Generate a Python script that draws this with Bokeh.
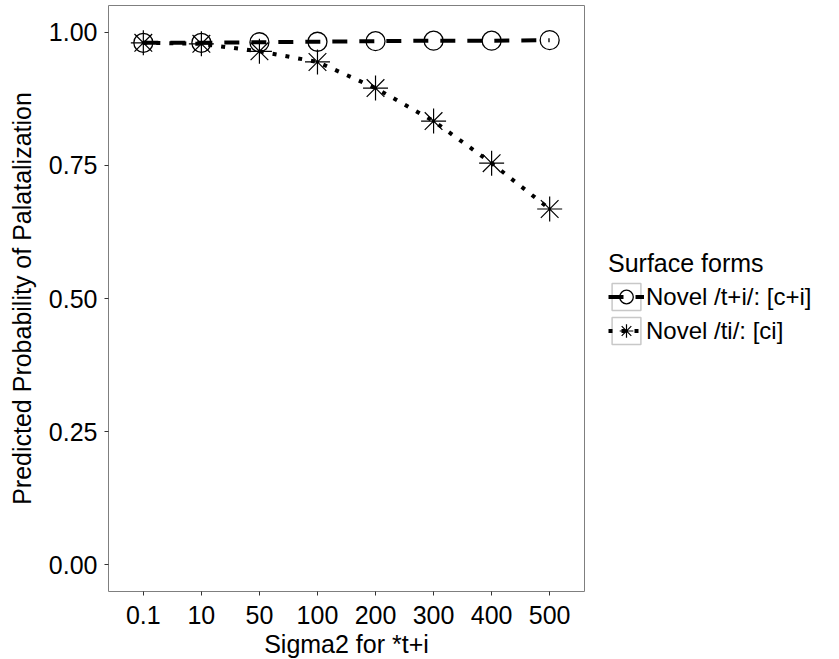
from bokeh.plotting import figure
from bokeh.models import Range1d, FactorRange, FixedTicker, Legend, LegendItem, ColumnDataSource
from bokeh.models import NumeralTickFormatter
from bokeh.embed import file_html
from bokeh.resources import INLINE

sigma2 = ["0.1", "10", "50", "100", "200", "300", "400", "500"]
novel_t_plus_i = [0.980, 0.980, 0.981, 0.982, 0.983, 0.984, 0.984, 0.985]
novel_ti = [0.980, 0.978, 0.964, 0.944, 0.895, 0.833, 0.754, 0.668]
y_ticks = [0.0, 0.25, 0.5, 0.75, 1.0]
series_labels = ["Novel /t+i/: [c+i]", "Novel /ti/: [ci]"]

FONT = "Liberation Sans"
FS = "25px"

p = figure(
    x_range=FactorRange(factors=sigma2, range_padding=0.025, range_padding_units="percent"),
    y_range=Range1d(-0.05, 1.05),
    frame_width=476, frame_height=586,
    min_border_left=108, min_border_top=5, min_border_bottom=60, min_border_right=0,
    output_backend="svg", toolbar_location=None,
)
p.background_fill_color = "white"
p.border_fill_color = "white"
p.outline_line_color = "#7f7f7f"
p.outline_line_width = 1
p.xgrid.visible = False
p.ygrid.visible = False

for ax in (p.xaxis[0], p.yaxis[0]):
    ax.axis_line_color = None
    ax.major_tick_line_color = "#333333"
    ax.major_tick_out = 4
    ax.major_tick_in = 0
    ax.minor_tick_line_color = None
    ax.major_label_text_font = FONT
    ax.major_label_text_font_size = FS
    ax.major_label_text_color = "black"
    ax.axis_label_text_font = FONT
    ax.axis_label_text_font_size = FS
    ax.axis_label_text_font_style = "normal"
    ax.axis_label_text_color = "black"

p.yaxis[0].ticker = FixedTicker(ticks=y_ticks)
p.yaxis[0].formatter = NumeralTickFormatter(format="0.00")
p.yaxis[0].axis_label = "Predicted Probability of Palatalization"
p.yaxis[0].major_label_standoff = 7
p.yaxis[0].axis_label_standoff = 10
p.xaxis[0].axis_label = "Sigma2 for *t+i"
p.xaxis[0].major_label_standoff = 10
p.xaxis[0].axis_label_standoff = 3

src = ColumnDataSource(dict(x=sigma2, a=novel_t_plus_i, b=novel_ti))

l1 = p.line("x", "a", source=src, line_color="black", line_width=4, line_dash="15 12")
m1 = p.scatter("x", "a", source=src, marker="circle", size=19, fill_color=None,
               line_color="black", line_width=1.3)
l2 = p.line("x", "b", source=src, line_color="black", line_width=4, line_dash="4 9")
m2 = p.scatter("x", "b", source=src, marker="asterisk", size=25,
               line_color="black", line_width=1.2)

# legend key boxes (glyph placed outside the visible y range)
box_src = ColumnDataSource(dict(x=[sigma2[0]], y=[5.0]))
bx = p.rect("x", "y", width=0.5, height=0.1, source=box_src,
            fill_color="white", line_color="#c8c8c8", line_width=1.5)

legend = Legend(
    items=[LegendItem(label=series_labels[0], renderers=[bx, l1, m1]),
           LegendItem(label=series_labels[1], renderers=[bx, l2, m2])],
    title="Surface forms",
    location="center_left",
    orientation="vertical",
)
legend.title_text_font = FONT
legend.title_text_font_size = FS
legend.title_text_font_style = "normal"
legend.title_text_color = "black"
legend.title_standoff = 2
legend.label_text_font = FONT
legend.label_text_font_size = "24px"
legend.label_text_color = "black"
legend.label_standoff = 2
legend.glyph_width = 36
legend.glyph_height = 34
legend.spacing = 0
legend.padding = 0
legend.margin = 24
legend.border_line_color = None
legend.background_fill_color = None
p.add_layout(legend, "right")

open("out.html", "w").write(file_html(p, INLINE))
